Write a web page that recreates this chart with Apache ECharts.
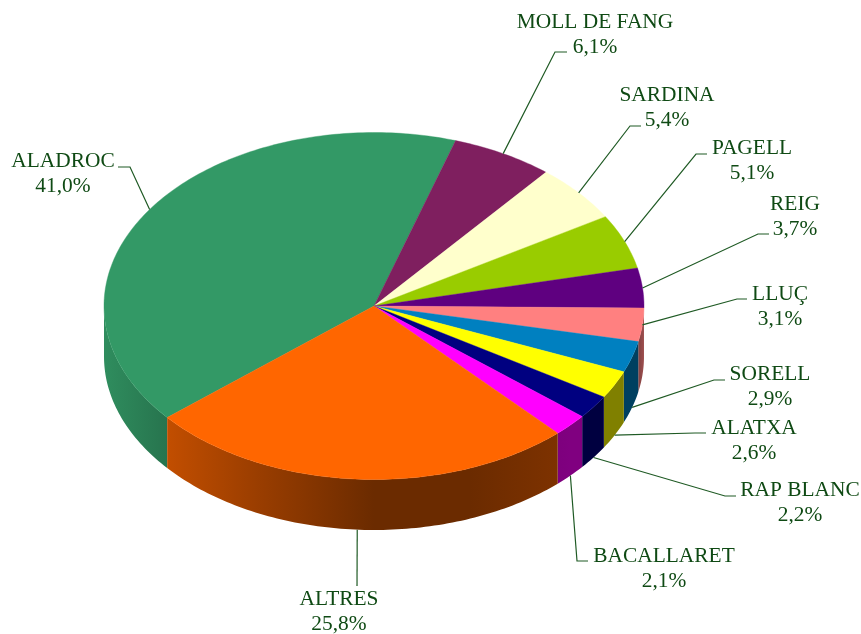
<!DOCTYPE html>
<html>
<head>
<meta charset="utf-8">
<style>html,body{margin:0;padding:0;background:#fff}#c{width:861px;height:634px}</style>
<script src="https://cdn.jsdelivr.net/npm/echarts@6/dist/echarts.min.js"></script>
</head>
<body>
<div id="c"></div>
<script>
const names = ['ALADROC','MOLL DE FANG','SARDINA','PAGELL','REIG','LLUÇ','SORELL','ALATXA','RAP BLANC','BACALLARET','ALTRES'];
const values = [41.0,6.1,5.4,5.1,3.7,3.1,2.9,2.6,2.2,2.1,25.8];
const colors = ['#339966','#7F1F5F','#FFFFCC','#99CC00','#5F0080','#FF8080','#0080C0','#FFFF00','#000080','#FF00FF','#FF6600'];
// label layout: text centre, then the elbow and end of each leader line
const labelCentres = [[63,174],[595,35],[667,108],[752,161],[795,217],[780,307],[770,387],[754,441],[800,503],[664,569],[339,612]];
const leaderBends = [[[130,167],[118,167]],[[555,52],[567,52]],[[630,126],[641,126]],[[696,154],[707,154]],[[758,234],[769,234]],[[737,299],[747,299]],[[714,380],[725,380]],[[695,433],[706,433]],[[725,496],[736,496]],[[577,561],[588,561]],[[357,586]]];

const CX = 374, CY = 306, RX = 270, RY = 173.5, DEPTH = 50.5, FIRST_ANGLE = -130;
const shadeStops = [[104,.92],[167,.76],[260,.6],[374,.42],[470,.42],[570,.5],[638,.5],[644,.62]];
const total = values.reduce((a,b)=>a+b,0);
const starts = []; { let a = FIRST_ANGLE; values.forEach(v=>{ starts.push(a); a += v/total*360; }); }

const pt = (deg, dy=0) => { const r = deg*Math.PI/180; return [CX+RX*Math.sin(r), CY-RY*Math.cos(r)+dy]; };
const arc = (a0, a1, dy=0) => { const n = Math.max(2, Math.ceil(Math.abs(a1-a0))); const out=[]; for(let i=0;i<=n;i++) out.push(pt(a0+(a1-a0)*i/n, dy)); return out; };
function shade(hex, f){ const n=parseInt(hex.slice(1),16); const c=[n>>16,(n>>8)&255,n&255].map(v=>Math.round(v*f)); return `rgb(${c.join(',')})`; }
function sideFill(color){
  const x0=shadeStops[0][0], x1=shadeStops[shadeStops.length-1][0];
  return {type:'linear',global:true,x:x0,y:0,x2:x1,y2:0,colorStops:shadeStops.map(s=>({offset:(s[0]-x0)/(x1-x0),color:shade(color,s[1])}))};
}
// normalised sweep of slice i, in degrees clockwise from the top, mapped into 0..360
function sweep(i, value){ let a0=starts[i]; while(a0<0) a0+=360; return [a0, a0+value/total*360]; }

const seriesData = values.map(v=>[v]);
const option = {
  animation:false,
  backgroundColor:'#fff',
  series:[
    {type:'custom',coordinateSystem:'none',z:1,silent:true,data:seriesData,
     renderItem(p,api){
       const [s,e]=sweep(p.dataIndex,api.value(0)); const kids=[];
       [[s,e],[s-360,e-360],[s+360,e+360]].forEach(([a,b])=>{
         const lo=Math.max(a,90), hi=Math.min(b,270);
         if(hi>lo) kids.push({type:'polygon',shape:{points:arc(lo,hi).concat(arc(hi,lo,DEPTH))},
           style:{fill:sideFill(colors[p.dataIndex]),stroke:null}});
       });
       return {type:'group',children:kids};
     }},
    {type:'custom',coordinateSystem:'none',z:2,silent:true,data:seriesData,
     renderItem(p,api){
       const [s,e]=sweep(p.dataIndex,api.value(0));
       return {type:'polygon',shape:{points:[[CX,CY]].concat(arc(s,e))},
         style:{fill:colors[p.dataIndex],stroke:colors[p.dataIndex],lineWidth:0.4}};
     }},
    {type:'custom',coordinateSystem:'none',z:3,silent:true,data:seriesData,
     renderItem(p,api){
       const i=p.dataIndex, v=api.value(0);
       const [s,e]=sweep(i,v); let mid=((s+e)/2)%360;
       const start=pt(mid,(mid>100&&mid<270)?DEPTH:0);
       const c=labelCentres[i];
       return {type:'group',children:[
         {type:'polyline',shape:{points:[start].concat(leaderBends[i])},style:{fill:null,stroke:'#1f5a24',lineWidth:1.2}},
         {type:'text',x:c[0],y:c[1],style:{text:names[i]+'\n'+v.toFixed(1).replace('.',',')+'%',
           font:'21.4px "Liberation Serif"',lineHeight:25,fill:'#0f4a14',align:'center',verticalAlign:'middle'}}
       ]};
     }}
  ]
};
echarts.init(document.getElementById('c'),null,{renderer:'canvas'}).setOption(option);
</script>
</body>
</html>
